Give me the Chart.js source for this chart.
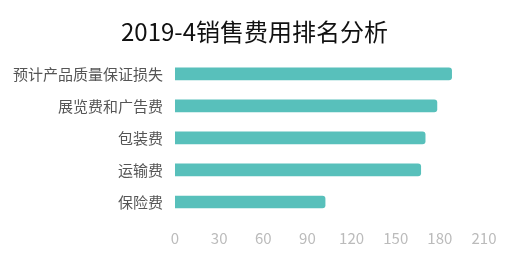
<!DOCTYPE html>
<html>
<head>
<meta charset="utf-8">
<script src="https://cdn.jsdelivr.net/npm/chart.js@4"></script>
<style>
  body { margin: 0; background: #fff; }
  #wrap { width: 516px; height: 258px; }
</style>
</head>
<body>
<div id="wrap"><canvas id="mycanvas" width="516" height="258"></canvas></div>
<script>
var categories = ['预计产品质量保证损失', '展览费和广告费', '包装费', '运输费', '保险费'];
var costs = [188, 178, 170, 167, 102];
var xTicks = [0, 30, 60, 90, 120, 150, 180, 210];

var chartdata = {
  labels: categories,
  datasets: [
    {
      label: '销售费用',
      backgroundColor: '#58c0bb',
      borderRadius: 3,
      barThickness: 12,
      data: costs
    }
  ]
};

// the title sits a bit right of the canvas middle in the original
var nudgeTitle = {
  id: 'nudgeTitle',
  afterLayout: function(chart) {
    if (chart.titleBlock) {
      chart.titleBlock.left += 12;
      chart.titleBlock.right += 12;
    }
  }
};

var ctx = document.getElementById('mycanvas');

var barGraph = new Chart(ctx, {
  type: 'bar',
  data: chartdata,
  plugins: [nudgeTitle],
  options: {
    indexAxis: 'y',
    responsive: false,
    animation: false,
    layout: { padding: { left: 1, right: 32, top: 0, bottom: 0 } },
    plugins: {
      legend: { display: false },
      tooltip: { enabled: false },
      title: {
        display: true,
        text: '2019-4销售费用排名分析',
        color: '#111',
        font: { family: '"Noto Sans CJK SC", sans-serif', size: 24, weight: 'normal' },
        padding: { top: 17, bottom: 12 }
      }
    },
    scales: {
      x: {
        min: xTicks[0],
        max: xTicks[xTicks.length - 1],
        afterBuildTicks: function(axis) {
          axis.ticks = xTicks.map(function(v) { return { value: v }; });
        },
        grid: { display: false, drawTicks: false },
        border: { display: false },
        ticks: {
          color: '#bbb',
          padding: 11,
          font: { family: '"Noto Sans CJK SC", sans-serif', size: 15 }
        }
      },
      y: {
        grid: { display: false, drawTicks: false },
        border: { display: false },
        ticks: {
          color: '#555',
          padding: 12,
          font: { family: '"Noto Sans CJK SC", sans-serif', size: 15 }
        }
      }
    }
  }
});
</script>
</body>
</html>
